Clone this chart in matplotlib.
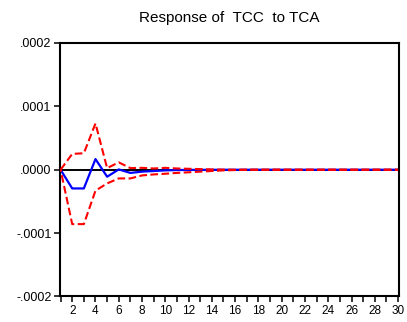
import matplotlib
matplotlib.use('Agg')
import matplotlib.pyplot as plt
import numpy as np

plt.rcParams['font.family'] = ['Liberation Sans', 'DejaVu Sans']
plt.rcParams['lines.scale_dashes'] = False

# impulse response of TCC to TCA, 30 periods
periods = list(range(1, 31))
response = [0.0, -0.0000295, -0.0000295, 0.0000168, -0.000011, 0.0000005, -0.000005,
            -0.000003, -0.000002, -0.000001, -0.0000005, -0.0000003, -0.0000002, -0.0000001,
            0, 0, 0, 0, 0, 0, 0, 0, 0, 0, 0, 0, 0, 0, 0, 0]
upper = [0.0, 0.000025, 0.000026, 0.000073, 0.0000026, 0.0000116, 0.0000026,
         0.000003, 0.000002, 0.000003, 0.000002, 0.0000015, 0.000001, 0.0000005,
         0.0000002, 0, 0, 0, 0, 0, 0, 0, 0, 0, 0, 0, 0, 0, 0, 0]
lower = [0.0, -0.0000858, -0.0000858, -0.000033, -0.0000216, -0.0000137, -0.0000137,
         -0.000009, -0.0000074, -0.0000063, -0.000005, -0.000004, -0.000003, -0.000002,
         -0.000001, -0.0000005, 0, 0, 0, 0, 0, 0, 0, 0, 0, 0, 0, 0, 0, 0]

yticks = [-0.0002, -0.0001, 0.0, 0.0001, 0.0002]
ylabels = ['-.0002', '-.0001', '.0000', '.0001', '.0002']

fig = plt.figure(figsize=(4.07, 3.22), dpi=100)
ax = fig.add_axes([0.1474, 0.0792, 0.8329, 0.7873])

ax.axhline(0, color='black', lw=1.4, zorder=1)
ax.plot(periods, response, color='#0000ff', lw=1.6, zorder=2)
ax.plot(periods, upper, color='#ff0000', lw=1.5, ls=(0, (5.5, 2.5)), zorder=3)
ax.plot(periods, lower, color='#ff0000', lw=1.5, ls=(4, (5.5, 2.5)), zorder=3)

ax.set_xlim(0.95, 30.08)
ax.set_ylim(-0.0002, 0.0002)
ax.set_yticks(yticks)
ax.set_yticklabels(ylabels, fontsize=9)
ax.set_xticks(periods)
ax.set_xticklabels([str(p) if p % 2 == 0 else '' for p in periods], fontsize=8.5)
ax.tick_params(direction='out', length=4, width=1.1, pad=2)

for s in ax.spines.values():
    s.set_linewidth(1.5)

ax.set_title('Response of  TCC  to TCA', fontsize=11, pad=15)

fig.savefig('out.png', dpi=100)
